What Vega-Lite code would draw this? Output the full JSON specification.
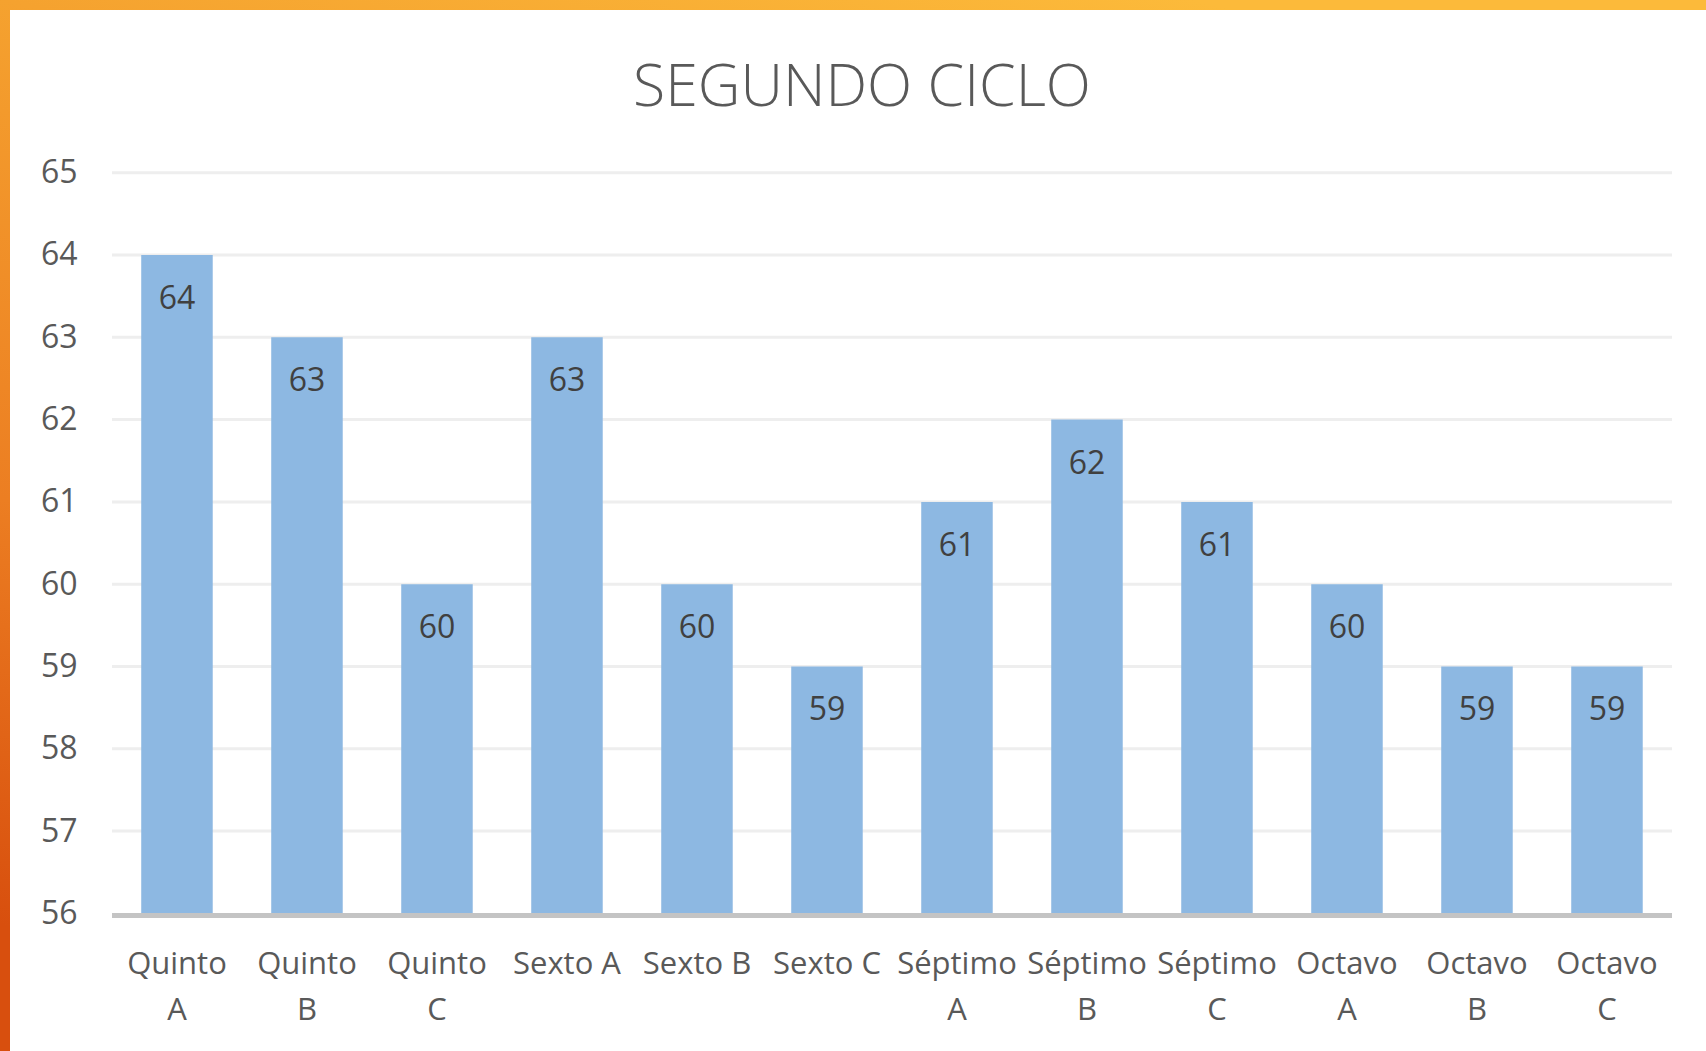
{
  "$schema": "https://vega.github.io/schema/vega-lite/v6.json",
  "width": 1706,
  "height": 1051,
  "autosize": {"type": "none"},
  "padding": 0,
  "background": "white",
  "config": {
    "view": {
      "fill": "white",
      "stroke": {
        "gradient": "linear",
        "x1": 0.7, "y1": 0, "x2": 0.3, "y2": 1,
        "stops": [
          {"offset": 0, "color": "#FCBA3A"},
          {"offset": 0.24, "color": "#F5A22F"},
          {"offset": 0.65, "color": "#EC7E22"},
          {"offset": 1, "color": "#D84F0E"}
        ]
      },
      "strokeWidth": 20,
      "strokeDash": [1706, 2757, 1051]
    },
    "font": "Open Sans"
  },
  "title": {
    "text": "SEGUNDO CICLO",
    "anchor": "middle",
    "frame": "group",
    "offset": -165,
    "baseline": "alphabetic",
    "fontSize": 59,
    "font": "Open Sans",
    "fontWeight": 300,
    "color": "#595959",
    "dx": 9
  },
  "datasets": {
    "grupos": [
      {"grupo": "Quinto A", "valor": 64},
      {"grupo": "Quinto B", "valor": 63},
      {"grupo": "Quinto C", "valor": 60},
      {"grupo": "Sexto A", "valor": 63},
      {"grupo": "Sexto B", "valor": 60},
      {"grupo": "Sexto C", "valor": 59},
      {"grupo": "Séptimo A", "valor": 61},
      {"grupo": "Séptimo B", "valor": 62},
      {"grupo": "Séptimo C", "valor": 61},
      {"grupo": "Octavo A", "valor": 60},
      {"grupo": "Octavo B", "valor": 59},
      {"grupo": "Octavo C", "valor": 59}
    ],
    "rejilla": [
      {"v": 57}, {"v": 58}, {"v": 59}, {"v": 60}, {"v": 61},
      {"v": 62}, {"v": 63}, {"v": 64}, {"v": 65}
    ],
    "eje": [{"v": 56}]
  },
  "layer": [
    {
      "data": {"name": "rejilla"},
      "mark": {"type": "rule", "color": "#EEEEEE", "strokeWidth": 3},
      "encoding": {
        "y": {
          "field": "v", "type": "quantitative", "title": null,
          "scale": {"domain": [54.328, 67.098], "nice": false, "zero": false},
          "axis": {
            "orient": "left", "values": [56, 57, 58, 59, 60, 61, 62, 63, 64, 65],
            "format": "d",
            "grid": false, "domain": false, "ticks": false, "offset": -77,
            "labelPadding": 0, "labelFontSize": 32, "labelColor": "#595959",
            "labelFont": "Open Sans", "title": null
          }
        },
        "x": {"datum": -0.5, "type": "quantitative", "scale": {"domain": [-1.3615, 11.7615], "nice": false, "zero": false}, "axis": null},
        "x2": {"datum": 11.5}
      }
    },
    {
      "data": {"name": "grupos"},
      "mark": {"type": "bar", "color": "#8DB8E2", "width": {"band": 0.55}},
      "encoding": {
        "x": {
          "field": "grupo", "type": "nominal", "sort": null, "title": null,
          "scale": {"type": "band", "paddingInner": 0, "paddingOuter": 0.5615, "align": 0.767},
          "axis": {
            "orient": "bottom", "offset": -137, "domain": false, "ticks": false, "grid": false,
            "labelAngle": 0, "labelPadding": 35, "labelBaseline": "top", "labelFontSize": 31,
            "labelColor": "#595959", "labelFont": "Open Sans", "labelLineHeight": 46,
            "labelLimit": 300, "labelOverlap": false, "title": null,
            "labelExpr": "indexof(datum.label, 'Sexto') == 0 ? datum.label : split(datum.label, ' ')"
          }
        },
        "y": {"field": "valor", "type": "quantitative", "title": null},
        "y2": {"datum": 56}
      }
    },
    {
      "data": {"name": "grupos"},
      "mark": {"type": "text", "baseline": "middle", "align": "center", "dy": 44, "fontSize": 32, "color": "#404040", "font": "Open Sans"},
      "encoding": {
        "x": {
          "field": "grupo", "type": "nominal", "sort": null, "title": null,
          "scale": {"type": "band", "paddingInner": 0, "paddingOuter": 0.5615, "align": 0.767},
          "axis": null
        },
        "y": {"field": "valor", "type": "quantitative", "title": null},
        "text": {"field": "valor", "type": "quantitative"}
      }
    },
    {
      "data": {"name": "eje"},
      "mark": {"type": "rule", "color": "#C4C4C4", "strokeWidth": 5, "yOffset": 2},
      "encoding": {
        "y": {"field": "v", "type": "quantitative", "title": null},
        "x": {"datum": -0.5, "type": "quantitative", "scale": {"domain": [-1.3615, 11.7615], "nice": false, "zero": false}, "axis": null},
        "x2": {"datum": 11.5}
      }
    }
  ],
  "resolve": {"scale": {"x": "independent"}, "axis": {"x": "independent"}}
}
